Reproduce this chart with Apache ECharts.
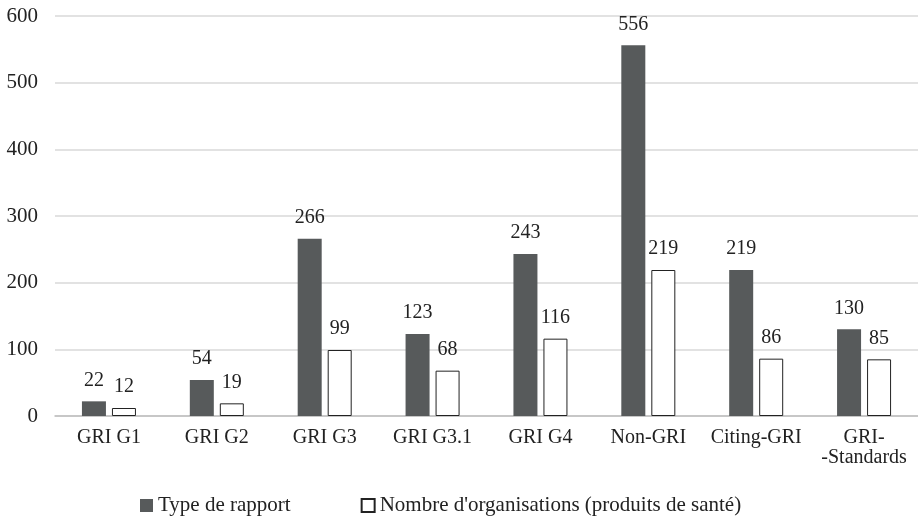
<!DOCTYPE html>
<html>
<head>
    <meta charset="utf-8">
    <title>GRI</title>
    <script src="https://cdn.jsdelivr.net/npm/echarts@6/dist/echarts.min.js"></script>
    <style>body{margin:0;background:#fff;}</style>
</head>
<body>
    <div id="main" style="width: 918px;height:523px;"></div>
    <script type="text/javascript">
        var categories = ['GRI G1', 'GRI G2', 'GRI G3', 'GRI G3.1', 'GRI G4', 'Non-GRI', 'Citing-GRI', 'GRI-\n-Standards'];
        var typeRapport = [22, 54, 266, 123, 243, 556, 219, 130];
        var nbOrganisations = [12, 19, 99, 68, 116, 219, 86, 85];
        var yTicks = [0, 100, 200, 300, 400, 500, 600];

        var font = '"Times New Roman", serif';
        var myChart = echarts.init(document.getElementById('main'));

        var labelStyle = {
            show: true,
            position: 'top',
            distance: 11,
            color: '#222',
            fontFamily: font,
            fontSize: 20
        };

        var option = {
            backgroundColor: '#fff',
            animation: false,
            textStyle: { fontFamily: font },
            grid: { left: 55, right: 0, top: 16, bottom: 107, containLabel: false, outerBoundsMode: 'none' },
            legend: {
                bottom: 2,
                left: 135,
                itemWidth: 13,
                itemHeight: 13,
                itemGap: 70,
                textStyle: { fontFamily: font, fontSize: 21, color: '#222' },
                data: [
                    { name: 'Type de rapport', icon: 'rect' },
                    { name: "Nombre d'organisations (produits de santé)", icon: 'rect' }
                ]
            },
            xAxis: {
                type: 'category',
                data: categories,
                axisLine: { lineStyle: { color: '#bfbfbf', width: 1.5 } },
                axisTick: { show: false },
                axisLabel: {
                    fontFamily: font, fontSize: 20, color: '#222', margin: 12,
                    interval: 0, lineHeight: 20
                }
            },
            yAxis: {
                type: 'value',
                min: yTicks[0],
                max: yTicks[yTicks.length - 1],
                interval: 100,
                axisLine: { show: false },
                axisTick: { show: false },
                splitLine: { lineStyle: { color: '#d9d9d9', width: 1.5 } },
                axisLabel: { fontFamily: font, fontSize: 21, color: '#222', margin: 17 }
            },
            series: [{
                name: 'Type de rapport',
                type: 'bar',
                barWidth: 24,
                barGap: '25%',
                itemStyle: { color: '#575a5b' },
                label: labelStyle,
                data: typeRapport
            }, {
                name: "Nombre d'organisations (produits de santé)",
                type: 'bar',
                barWidth: 24,
                itemStyle: { color: '#fff', borderColor: '#222', borderWidth: 1 },
                label: labelStyle,
                data: nbOrganisations
            }]
        };

        myChart.setOption(option);
    </script>
</body>
</html>
